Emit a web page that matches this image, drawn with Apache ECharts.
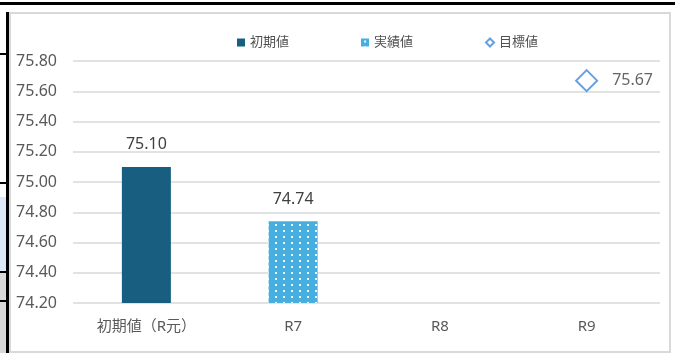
<!DOCTYPE html>
<html><head><meta charset="utf-8">
<script src="https://cdn.jsdelivr.net/npm/echarts@6/dist/echarts.min.js"></script>
<style>html,body{margin:0;padding:0;background:#fff}#c{width:675px;height:353px}</style>
</head><body><div id="c"></div>
<script>
const categories = ['初期値（R元）', 'R7', 'R8', 'R9'];
const initialValues = [75.10, null, null, null];
const actualValues = [null, 74.74, null, null];
const targetValues = [null, null, null, 75.67];
const seriesNames = ['初期値', '実績値', '目標値'];
const yMin = 74.2, yMax = 75.8, yStep = 0.2;

const pc = document.createElement('canvas');
pc.width = 8; pc.height = 6;
const g = pc.getContext('2d');
g.fillStyle = '#46afe0'; g.fillRect(0, 0, 8, 6);
g.fillStyle = 'rgba(255,255,255,0.9)'; g.fillRect(3, 2, 2, 2);

const font = '"Noto Sans", "Noto Sans CJK JP", sans-serif';
const chart = echarts.init(document.getElementById('c'), null, {renderer: 'canvas'});
chart.setOption({
  backgroundColor: '#ffffff',
  animation: false,
  textStyle: {fontFamily: font},
  graphic: [
    {type: 'rect', shape: {x: 0, y: 2, width: 675, height: 3}, style: {fill: '#000'}, silent: true},
    {type: 'rect', shape: {x: 0, y: 197, width: 7, height: 75}, style: {fill: '#dde9f6'}, silent: true},
    {type: 'rect', shape: {x: 0, y: 272, width: 7, height: 81}, style: {fill: '#d9d9d9'}, silent: true},
    {type: 'rect', shape: {x: 0, y: 53, width: 7, height: 2}, style: {fill: '#000'}, silent: true},
    {type: 'rect', shape: {x: 0, y: 182, width: 7, height: 2}, style: {fill: '#000'}, silent: true},
    {type: 'rect', shape: {x: 0, y: 271, width: 7, height: 2}, style: {fill: '#000'}, silent: true},
    {type: 'rect', shape: {x: 0, y: 300, width: 7, height: 2}, style: {fill: '#000'}, silent: true},
    {type: 'rect', shape: {x: 6, y: 12, width: 3, height: 341}, style: {fill: '#000'}, silent: true},
    {type: 'rect', shape: {x: 10, y: 13, width: 660, height: 339}, style: {fill: 'none', stroke: '#d9d9d9', lineWidth: 2}, silent: true}
  ],
  legend: {
    left: 232, top: 31,
    itemWidth: 8, itemHeight: 8, itemGap: 72,
    textStyle: {fontSize: 13, color: '#505050', fontFamily: font},
    data: [
      {name: seriesNames[0], icon: 'rect'},
      {name: seriesNames[1], icon: 'rect'},
      {name: seriesNames[2], icon: 'diamond'}
    ]
  },
  grid: {left: 73, right: 15, top: 61, bottom: 50, containLabel: false},
  xAxis: {
    type: 'category', data: categories,
    axisLine: {show: false}, axisTick: {show: false},
    axisLabel: {fontSize: 15, color: '#595959', margin: 16, fontFamily: font}
  },
  yAxis: {
    type: 'value', min: yMin, max: yMax, interval: yStep,
    axisLine: {show: false}, axisTick: {show: false},
    axisLabel: {fontSize: 16, color: '#595959', margin: 16, fontFamily: font,
      formatter: v => v.toFixed(2)},
    splitLine: {lineStyle: {color: '#d9d9d9', width: 1.5}}
  },
  series: [
    {
      name: seriesNames[0], type: 'bar', stack: 's', barWidth: 49,
      data: initialValues,
      itemStyle: {color: '#175e80'},
      label: {show: true, position: 'top', distance: 14, fontSize: 16, color: '#404040', fontFamily: font,
        formatter: p => p.value == null ? '' : p.value.toFixed(2)}
    },
    {
      name: seriesNames[1], type: 'bar', stack: 's', barWidth: 49,
      data: actualValues,
      itemStyle: {color: {image: pc, repeat: 'repeat'}},
      label: {show: true, position: 'top', distance: 14, fontSize: 16, color: '#404040', fontFamily: font,
        formatter: p => p.value == null ? '' : p.value.toFixed(2)}
    },
    {
      name: seriesNames[2], type: 'scatter', symbol: 'diamond', symbolSize: [21, 21],
      data: targetValues,
      itemStyle: {color: '#ffffff', borderColor: '#3f8ad6', borderWidth: 2},
      label: {show: true, position: 'right', distance: 14, fontSize: 16, color: '#404040', fontFamily: font,
        formatter: p => p.value == null ? '' : p.value.toFixed(2)}
    }
  ]
});
</script></body></html>
